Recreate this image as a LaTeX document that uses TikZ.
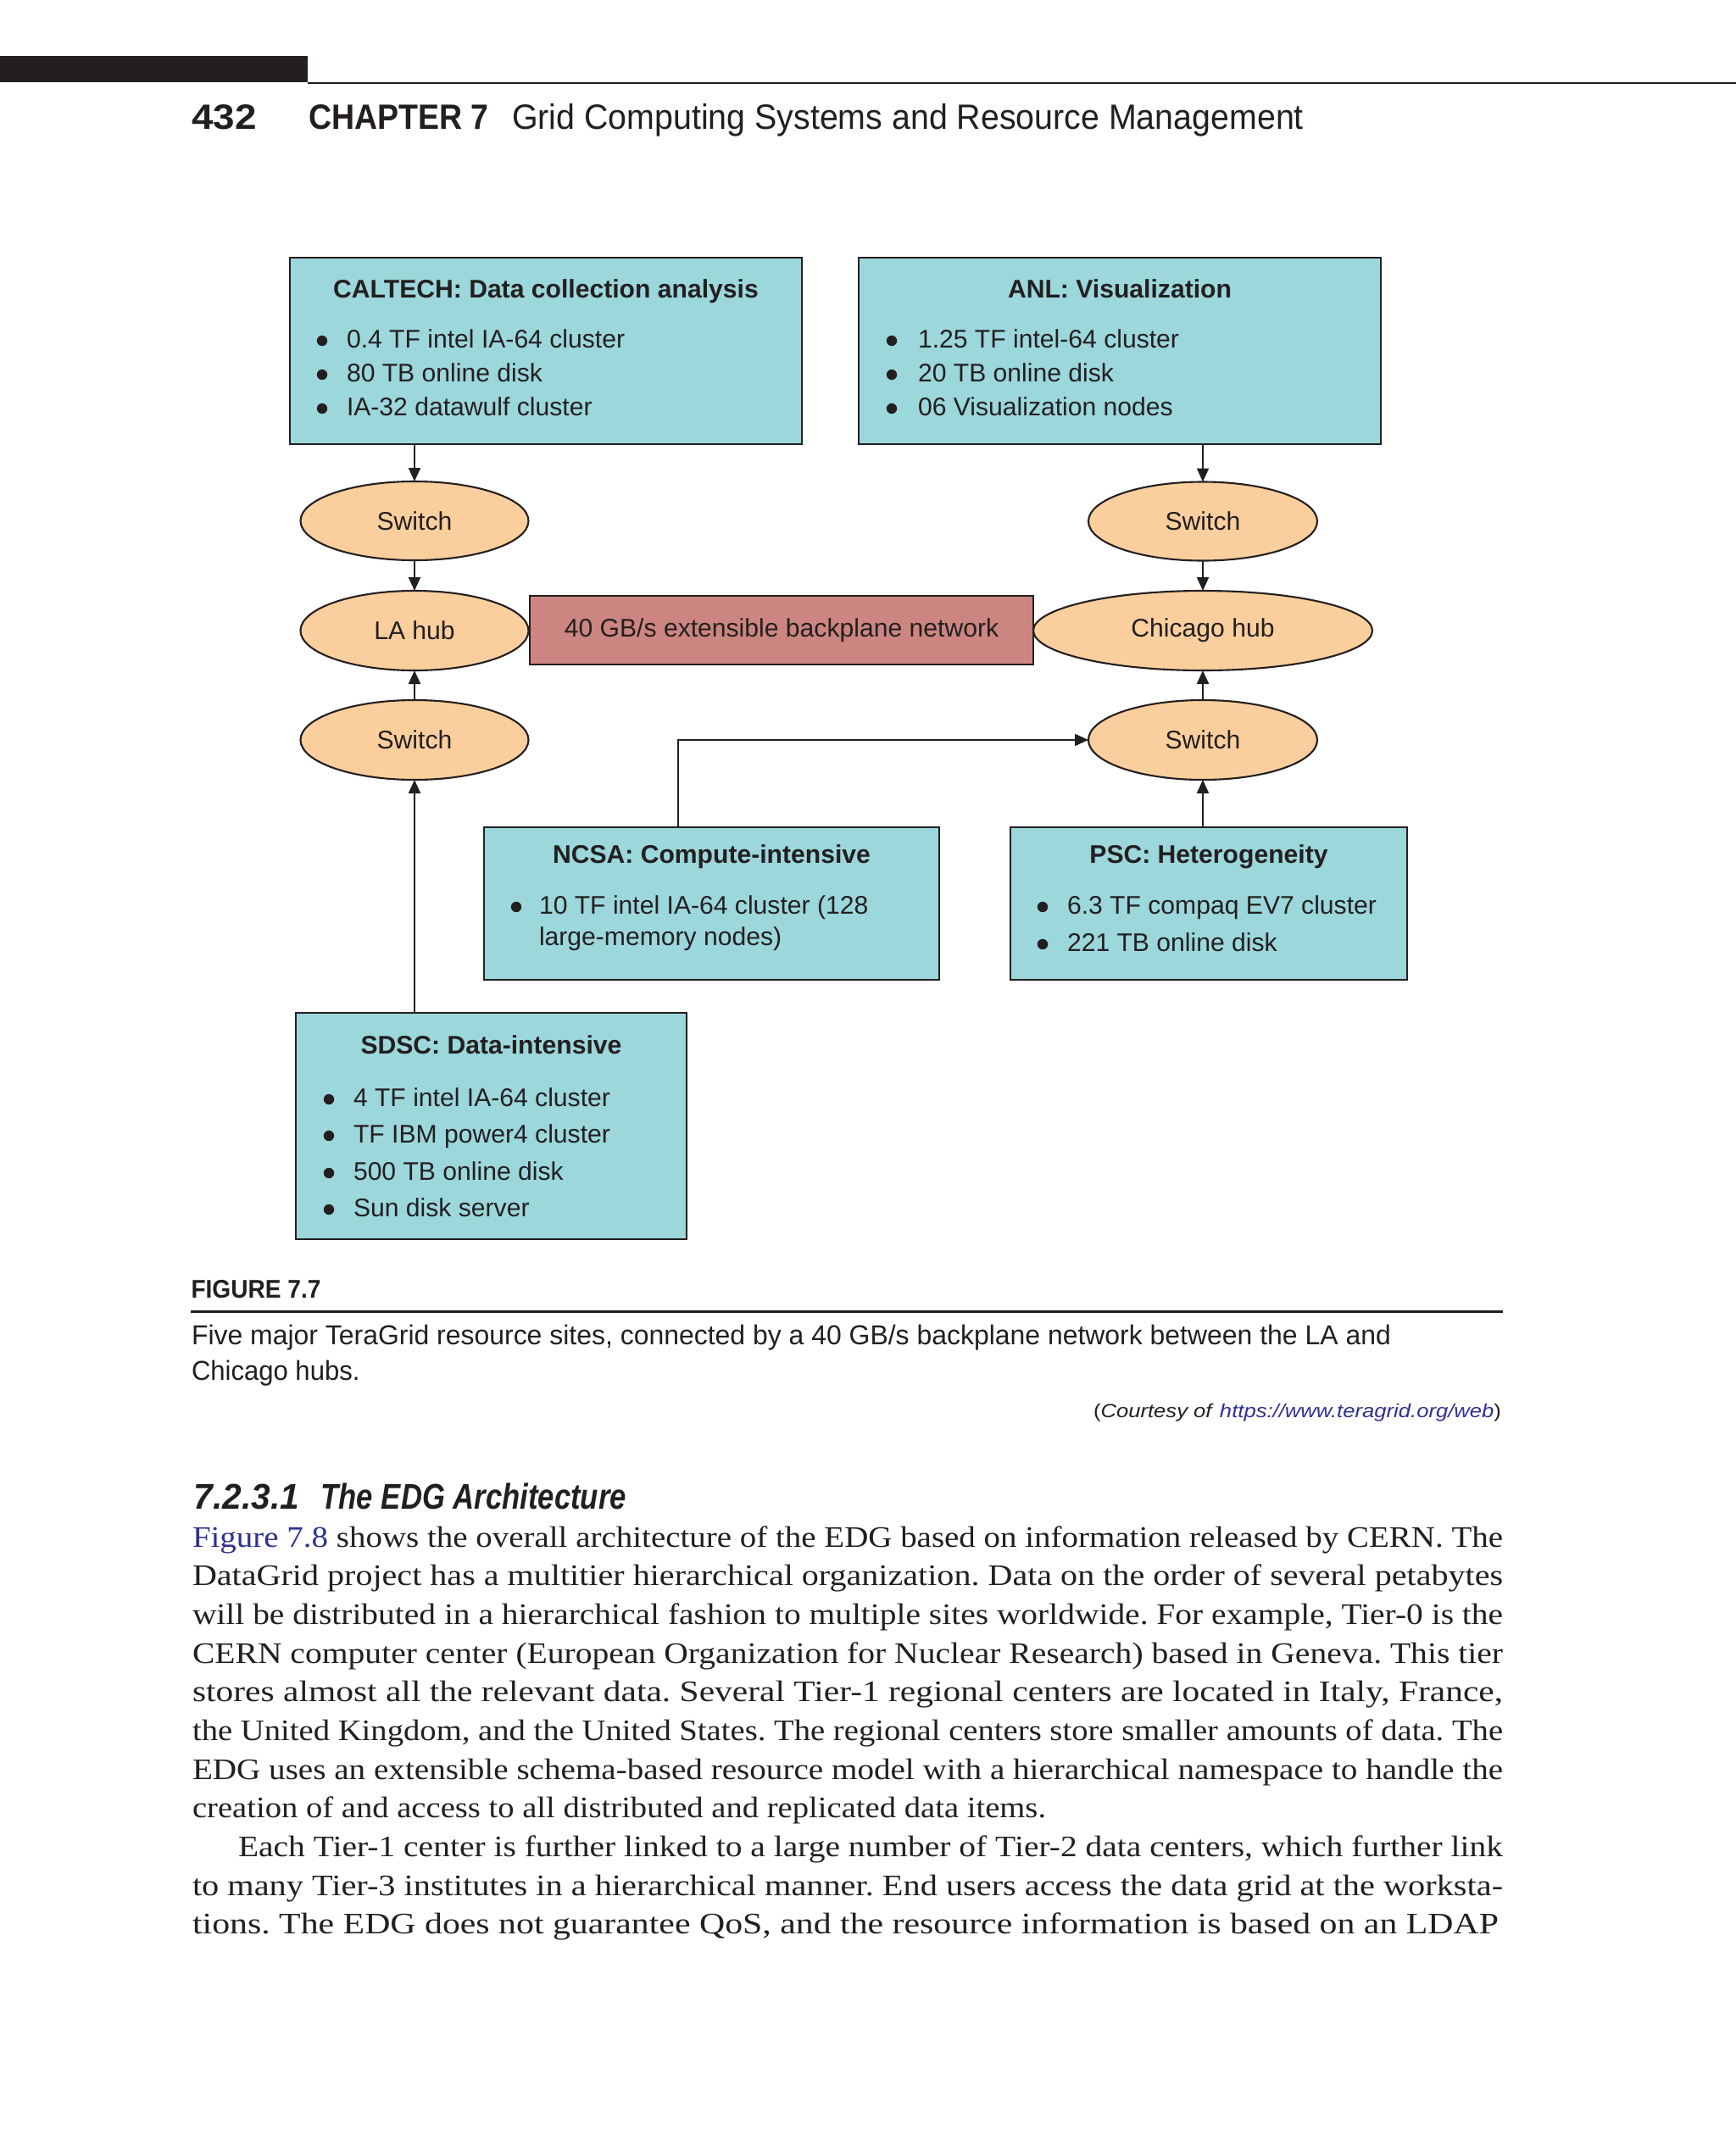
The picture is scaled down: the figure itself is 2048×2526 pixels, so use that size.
\documentclass[tikz,border=0pt]{standalone}
\usepackage{fontspec}
\usepackage{graphicx}
\setmainfont{Liberation Serif}
\newfontfamily\diafont{Liberation Sans}
\newfontfamily\hdfont{Liberation Sans}
\newfontfamily\bodyfont{Liberation Serif}
\usetikzlibrary{shapes.geometric,arrows.meta}
\definecolor{ink}{RGB}{35,31,32}
\definecolor{sitefill}{RGB}{155,215,219}
\definecolor{hubfill}{RGB}{250,207,157}
\definecolor{netfill}{RGB}{204,133,128}
\definecolor{linkblue}{RGB}{46,49,146}
\newcommand\dfs{\diafont\fontsize{8.57pt}{10pt}\selectfont}
\newsavebox\fitbox
% scale text horizontally so that it is #1 px wide (1 px = 0.1 mm)
\newcommand\fitto[2]{\sbox\fitbox{#2}\edef\fitfac{\fpeval{#1*0.2845276*65536/\number\wd\fitbox}}\scalebox{\fitfac}[1]{\usebox\fitbox}}
\newcommand\hdsz{\hdfont\fontsize{11.8pt}{12pt}\selectfont}
\newcommand\capsz{\hdfont\fontsize{9.2pt}{10pt}\selectfont}
\newcommand\bsz{\bodyfont\fontsize{10pt}{12pt}\selectfont\frenchspacing}
\frenchspacing
\begin{document}
\begin{tikzpicture}[x=0.1mm,y=-0.1mm,
  every node/.style={inner sep=0pt, outer sep=0pt, text=ink},
  sitebox/.style={draw=ink, line width=0.7pt, fill=sitefill, rectangle},
  hub/.style={ellipse, draw=ink, line width=0.6pt, fill=hubfill, font=\dfs},
  netbox/.style={rectangle, draw=ink, line width=0.7pt, fill=netfill, font=\dfs},
  ttl/.style={anchor=base, font=\dfs\bfseries},
  item/.style={anchor=base west, font=\dfs},
  bdot/.style={fill=ink},
  arr/.style={draw=ink, line width=0.6pt, -{Triangle[length=1.6mm,width=1.4mm]}},
  pg/.style={anchor=base west},
  bl/.style={anchor=base west, font=\bsz}
]
\useasboundingbox (0,0) rectangle (2048,2526);
\fill[white] (0,0) rectangle (2048,2526);

% ---------- running head ----------
\fill[ink] (0,66) rectangle (363,97);
\draw[ink, line width=0.2mm] (363,98) -- (2048,98);
\node[pg] (pgno) at (226.5,152) {\hdsz\bfseries\fitto{76.5}{432}};
\node[pg] (chap) at (364,152) {\hdsz\bfseries\fitto{212.5}{CHAPTER 7}};
\node[pg] (chtitle) at (604,152) {\hdsz\fitto{934}{Grid Computing Systems and Resource Management}};

% ---------- diagram ----------
\node[sitebox, minimum width=60.4mm, minimum height=22mm] (caltech) at (644,414) {};
\node[sitebox, minimum width=61.6mm, minimum height=22mm] (anl) at (1321,414) {};
\node[sitebox, minimum width=53.7mm, minimum height=18mm] (ncsa) at (839.5,1066) {};
\node[sitebox, minimum width=46.8mm, minimum height=18mm] (psc) at (1426,1066) {};
\node[sitebox, minimum width=46.1mm, minimum height=26.7mm] (sdsc) at (579.5,1328.5) {};

\node[netbox, minimum width=59.4mm, minimum height=8.1mm] (net) at (922,743.5) {40 GB/s extensible backplane network};

\node[hub, minimum width=26.9mm, minimum height=9.3mm] (swTL) at (489,614.5) {Switch};
\node[hub, minimum width=26.9mm, minimum height=9.4mm] (laHub) at (489,744) {LA hub};
\node[hub, minimum width=26.9mm, minimum height=9.4mm] (swBL) at (489,873) {Switch};
\node[hub, minimum width=27mm, minimum height=9.3mm] (swTR) at (1419,615) {Switch};
\node[hub, minimum width=40mm, minimum height=9.4mm] (chiHub) at (1419,744) {Chicago hub};
\node[hub, minimum width=27mm, minimum height=9.4mm] (swBR) at (1419,873) {Switch};

% titles
\node[ttl] (caltechT) at (644,351) {CALTECH: Data collection analysis};
\node[ttl] (anlT) at (1321,351) {ANL: Visualization};
\node[ttl] (ncsaT) at (839.5,1018) {NCSA: Compute-intensive};
\node[ttl] (pscT) at (1426,1018) {PSC: Heterogeneity};
\node[ttl] (sdscT) at (579.5,1243) {SDSC: Data-intensive};

% bullet items
\fill[bdot] (380,402) circle[radius=0.62mm];
\node[item] (cal1) at (409,410) {0.4 TF intel IA-64 cluster};
\fill[bdot] (380,442) circle[radius=0.62mm];
\node[item] (cal2) at (409,450) {80 TB online disk};
\fill[bdot] (380,482) circle[radius=0.62mm];
\node[item] (cal3) at (409,490) {IA-32 datawulf cluster};

\fill[bdot] (1052,402) circle[radius=0.62mm];
\node[item] (anl1) at (1083,410) {1.25 TF intel-64 cluster};
\fill[bdot] (1052,442) circle[radius=0.62mm];
\node[item] (anl2) at (1083,450) {20 TB online disk};
\fill[bdot] (1052,482) circle[radius=0.62mm];
\node[item] (anl3) at (1083,490) {06 Visualization nodes};

\fill[bdot] (609,1070) circle[radius=0.62mm];
\node[item] (ncsa1) at (636,1078) {10 TF intel IA-64 cluster (128};
\node[item] (ncsa1b) at (636,1115) {large-memory nodes)};

\fill[bdot] (1230,1070) circle[radius=0.62mm];
\node[item] (psc1) at (1259,1078) {6.3 TF compaq EV7 cluster};
\fill[bdot] (1230,1114) circle[radius=0.62mm];
\node[item] (psc2) at (1259,1122) {221 TB online disk};

\fill[bdot] (388,1297) circle[radius=0.62mm];
\node[item] (sd1) at (417,1305) {4 TF intel IA-64 cluster};
\fill[bdot] (388,1340) circle[radius=0.62mm];
\node[item] (sd2) at (417,1348) {TF IBM power4 cluster};
\fill[bdot] (388,1384) circle[radius=0.62mm];
\node[item] (sd3) at (417,1392) {500 TB online disk};
\fill[bdot] (388,1427) circle[radius=0.62mm];
\node[item] (sd4) at (417,1435) {Sun disk server};

% connectors
\draw[arr] (swTL.north |- caltech.south) -- (swTL.north);
\draw[arr] (swTL.south) -- (laHub.north);
\draw[arr] (swBL.north) -- (laHub.south);
\draw[arr] (swBL.south |- sdsc.north) -- (swBL.south);
\draw[arr] (swTR.north |- anl.south) -- (swTR.north);
\draw[arr] (swTR.south) -- (chiHub.north);
\draw[arr] (swBR.north) -- (chiHub.south);
\draw[arr] (swBR.south |- psc.north) -- (swBR.south);
\coordinate (ncsaTop) at (800,976);
\draw[arr] (ncsaTop) |- (swBR.west);

% ---------- caption ----------
\node[pg] (figlab) at (225.5,1531) {\hdfont\fontsize{8.6pt}{9pt}\selectfont\bfseries\fitto{153}{FIGURE 7.7}};
\draw[ink, line width=0.3mm] (225,1547) -- (1773,1547);
\node[pg] (cap1) at (226,1586) {\capsz\fitto{1415}{Five major TeraGrid resource sites, connected by a 40 GB/s backplane network between the LA and}};
\node[pg] (cap2) at (226,1628) {\capsz\fitto{198.5}{Chicago hubs.}};
\node[anchor=base east] (courtesy) at (1771,1672) {\hdfont\fontsize{6.4pt}{7pt}\selectfont\fitto{481}{(\textit{Courtesy of }\textcolor{linkblue}{\textit{https://www.teragrid.org/web}})}};

% ---------- section heading ----------
\node[pg] (secno) at (228.6,1780) {\hdfont\fontsize{12pt}{13pt}\selectfont\bfseries\itshape\fitto{124.4}{7.2.3.1}};
\node[pg] (sectitle) at (378.6,1780) {\hdfont\fontsize{12pt}{13pt}\selectfont\bfseries\itshape\fitto{360.4}{The EDG Architecture}};

% ---------- body text ----------
\node[bl] (l1) at (227,1825) {\fitto{1546}{\textcolor{linkblue}{Figure 7.8} shows the overall architecture of the EDG based on information released by CERN. The}};
\node[bl] (l2) at (227,1870.6) {\fitto{1546}{DataGrid project has a multitier hierarchical organization. Data on the order of several petabytes}};
\node[bl] (l3) at (227,1916.3) {\fitto{1546}{will be distributed in a hierarchical fashion to multiple sites worldwide. For example, Tier-0 is the}};
\node[bl] (l4) at (227,1962) {\fitto{1546}{CERN computer center (European Organization for Nuclear Research) based in Geneva. This tier}};
\node[bl] (l5) at (227,2007.6) {\fitto{1546}{stores almost all the relevant data. Several Tier-1 regional centers are located in Italy, France,}};
\node[bl] (l6) at (227,2053.3) {\fitto{1546}{the United Kingdom, and the United States. The regional centers store smaller amounts of data. The}};
\node[bl] (l7) at (227,2099) {\fitto{1546}{EDG uses an extensible schema-based resource model with a hierarchical namespace to handle the}};
\node[bl] (l8) at (227,2144.6) {\fitto{1007}{creation of and access to all distributed and replicated data items.}};
\node[bl] (l9) at (281,2190.3) {\fitto{1492}{Each Tier-1 center is further linked to a large number of Tier-2 data centers, which further link}};
\node[bl] (l10) at (227,2236) {\fitto{1546}{to many Tier-3 institutes in a hierarchical manner. End users access the data grid at the worksta-}};
\node[bl] (l11) at (227,2281.6) {\fitto{1541}{tions. The EDG does not guarantee QoS, and the resource information is based on an LDAP}};
\end{tikzpicture}
\end{document}
